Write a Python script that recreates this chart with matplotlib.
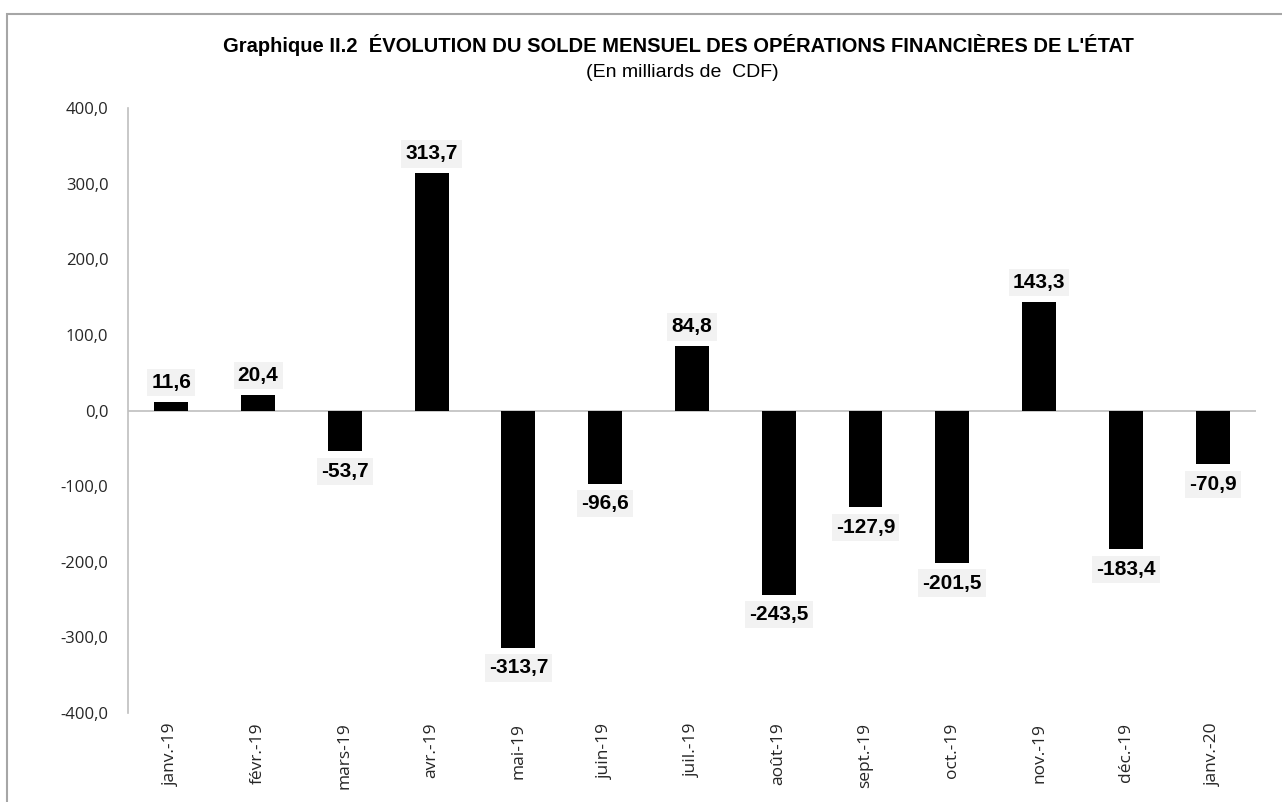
import matplotlib.pyplot as plt
from matplotlib.patches import Rectangle
from matplotlib.ticker import FuncFormatter

# données du graphique (milliards de CDF)
mois = ["janv.-19", "févr.-19", "mars-19", "avr.-19", "mai-19", "juin-19", "juil.-19",
        "août-19", "sept.-19", "oct.-19", "nov.-19", "déc.-19", "janv.-20"]
solde = [11.6, 20.4, -53.7, 313.7, -313.7, -96.6, 84.8,
         -243.5, -127.9, -201.5, 143.3, -183.4, -70.9]
y_ticks = [-400, -300, -200, -100, 0, 100, 200, 300, 400]

narrow = ["Liberation Sans Narrow", "Liberation Sans", "DejaVu Sans"]
label_font = ["Open Sans", "DejaVu Sans"]


def fmt_fr(v, pos=None):
    return f"{v:.1f}".replace(".", ",")


fig = plt.figure(figsize=(12.82, 8.02), dpi=100)
ax = fig.add_axes([0.0998, 0.111, 0.8799, 0.7542])

x = range(len(mois))
ax.bar(x, solde, width=0.39, color="black", zorder=3)
ax.axhline(0, color="#bfbfbf", linewidth=1.2, zorder=2)

ax.set_xlim(-0.5, len(mois) - 0.5)
ax.set_ylim(-400, 400)
ax.set_yticks(y_ticks)
ax.yaxis.set_major_formatter(FuncFormatter(fmt_fr))
ax.set_xticks(list(x))
ax.set_xticklabels(mois, rotation=90, fontsize=12.5, family=label_font, color="#262626")
for lab in ax.get_yticklabels():
    lab.set_family(label_font)
    lab.set_fontsize(12)
    lab.set_color("#262626")
ax.tick_params(axis="both", length=0)
ax.tick_params(axis="y", pad=14)
ax.tick_params(axis="x", pad=7)

for s in ["top", "right", "bottom"]:
    ax.spines[s].set_visible(False)
ax.spines["left"].set_color("#bfbfbf")
ax.spines["left"].set_linewidth(1.2)

# étiquettes de valeurs
for i, v in enumerate(solde):
    off = 14 if v >= 0 else -14.5
    ax.annotate(fmt_fr(v), (i, v), xytext=(0, off), textcoords="offset points",
                ha="center", va="center", fontsize=15, fontweight="bold",
                family=["Liberation Sans", "DejaVu Sans"],
                bbox=dict(boxstyle="square,pad=0.2", fc="#f2f2f2", ec="none"),
                zorder=4)

fig.text(0.529, 0.944, "Graphique II.2  ÉVOLUTION DU SOLDE MENSUEL DES OPÉRATIONS FINANCIÈRES DE L'ÉTAT",
         ha="center", va="center", fontsize=14.5, fontweight="bold", family=narrow)
fig.text(0.532, 0.909, "(En milliards de  CDF)", ha="center", va="center",
         fontsize=14, family=narrow)

# cadre du graphique
fig.patches.append(Rectangle((7 / 1282, -0.05), 1.1, 1 - 14 / 802 + 0.05,
                             transform=fig.transFigure, fill=False,
                             edgecolor="#a6a6a6", linewidth=1.5))

fig.savefig("out.png", dpi=100)
